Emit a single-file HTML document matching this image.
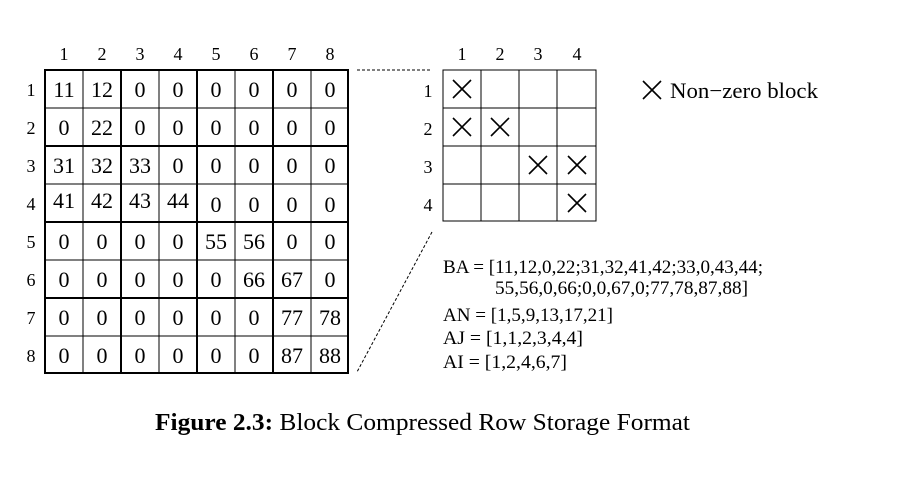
<!DOCTYPE html>
<html><head><meta charset="utf-8"><style>body{margin:0;background:#fff}svg{display:block}</style></head><body>
<svg width="904" height="504" viewBox="0 0 904 504" xmlns="http://www.w3.org/2000/svg" font-family="Liberation Serif, serif" fill="#000">
<g font-size="18" text-anchor="middle">
<text x="64" y="60">1</text><text x="102" y="60">2</text><text x="140" y="60">3</text><text x="178" y="60">4</text><text x="216" y="60">5</text><text x="254" y="60">6</text><text x="292" y="60">7</text><text x="330" y="60">8</text>
<text x="31" y="96">1</text><text x="31" y="134">2</text><text x="31" y="172">3</text><text x="31" y="210">4</text><text x="31" y="248">5</text><text x="31" y="286">6</text><text x="31" y="324">7</text><text x="31" y="362">8</text>
</g>
<g stroke="#000" fill="none">
<g stroke-width="1">
<line x1="83" y1="70" x2="83" y2="373"/><line x1="159" y1="70" x2="159" y2="373"/><line x1="235" y1="70" x2="235" y2="373"/><line x1="311" y1="70" x2="311" y2="373"/>
<line x1="45" y1="108" x2="348" y2="108"/><line x1="45" y1="184" x2="348" y2="184"/><line x1="45" y1="260" x2="348" y2="260"/><line x1="45" y1="336" x2="348" y2="336"/>
</g>
<g stroke-width="2">
<rect x="45" y="70" width="303" height="303"/>
<line x1="121" y1="70" x2="121" y2="373"/><line x1="197" y1="70" x2="197" y2="373"/><line x1="273" y1="70" x2="273" y2="373"/>
<line x1="45" y1="146" x2="348" y2="146"/><line x1="45" y1="222" x2="348" y2="222"/><line x1="45" y1="298" x2="348" y2="298"/>
</g>
</g>
<g font-size="22" text-anchor="middle">
<text x="64" y="97">11</text><text x="102" y="97">12</text><text x="140" y="97">0</text><text x="178" y="97">0</text><text x="216" y="97">0</text><text x="254" y="97">0</text><text x="292" y="97">0</text><text x="330" y="97">0</text>
<text x="64" y="135">0</text><text x="102" y="135">22</text><text x="140" y="135">0</text><text x="178" y="135">0</text><text x="216" y="135">0</text><text x="254" y="135">0</text><text x="292" y="135">0</text><text x="330" y="135">0</text>
<text x="64" y="173">31</text><text x="102" y="173">32</text><text x="140" y="173">33</text><text x="178" y="173">0</text><text x="216" y="173">0</text><text x="254" y="173">0</text><text x="292" y="173">0</text><text x="330" y="173">0</text>
<text x="64" y="208">41</text><text x="102" y="208">42</text><text x="140" y="208">43</text><text x="178" y="208">44</text><text x="216" y="212">0</text><text x="254" y="212">0</text><text x="292" y="212">0</text><text x="330" y="212">0</text>
<text x="64" y="249">0</text><text x="102" y="249">0</text><text x="140" y="249">0</text><text x="178" y="249">0</text><text x="216" y="249">55</text><text x="254" y="249">56</text><text x="292" y="249">0</text><text x="330" y="249">0</text>
<text x="64" y="287">0</text><text x="102" y="287">0</text><text x="140" y="287">0</text><text x="178" y="287">0</text><text x="216" y="287">0</text><text x="254" y="287">66</text><text x="292" y="287">67</text><text x="330" y="287">0</text>
<text x="64" y="325">0</text><text x="102" y="325">0</text><text x="140" y="325">0</text><text x="178" y="325">0</text><text x="216" y="325">0</text><text x="254" y="325">0</text><text x="292" y="325">77</text><text x="330" y="325">78</text>
<text x="64" y="363">0</text><text x="102" y="363">0</text><text x="140" y="363">0</text><text x="178" y="363">0</text><text x="216" y="363">0</text><text x="254" y="363">0</text><text x="292" y="363">87</text><text x="330" y="363">88</text>
</g>
<g stroke="#000" stroke-width="1" stroke-dasharray="3,2" fill="none">
<line x1="357" y1="70" x2="432" y2="70"/>
<line x1="432" y1="232" x2="357" y2="372"/>
</g>
<g font-size="18" text-anchor="middle">
<text x="462" y="60">1</text><text x="500" y="60">2</text><text x="538" y="60">3</text><text x="577" y="60">4</text>
<text x="428" y="97">1</text><text x="428" y="135">2</text><text x="428" y="173">3</text><text x="428" y="211">4</text>
</g>
<g stroke="#000" stroke-width="1" fill="none">
<rect x="443" y="70" width="153" height="151"/>
<line x1="481" y1="70" x2="481" y2="221"/><line x1="519" y1="70" x2="519" y2="221"/><line x1="557" y1="70" x2="557" y2="221"/>
<line x1="443" y1="108" x2="596" y2="108"/><line x1="443" y1="146" x2="596" y2="146"/><line x1="443" y1="184" x2="596" y2="184"/>
</g>
<g stroke="#000" stroke-width="1.6">
<path d="M453 80 L471 98 M471 80 L453 98"/>
<path d="M453 118 L471 136 M471 118 L453 136"/>
<path d="M491 118 L509 136 M509 118 L491 136"/>
<path d="M529 156 L547 174 M547 156 L529 174"/>
<path d="M568 156 L586 174 M586 156 L568 174"/>
<path d="M568 194 L586 212 M586 194 L568 212"/>
<path d="M643 81 L661 99 M661 81 L643 99"/>
</g>
<text x="670" y="98" font-size="22" textLength="148" lengthAdjust="spacingAndGlyphs">Non−zero block</text>
<g font-size="19">
<text x="443" y="273" textLength="320" lengthAdjust="spacingAndGlyphs">BA = [11,12,0,22;31,32,41,42;33,0,43,44;</text>
<text x="495" y="294" textLength="253" lengthAdjust="spacingAndGlyphs">55,56,0,66;0,0,67,0;77,78,87,88]</text>
<text x="443" y="321" textLength="170" lengthAdjust="spacingAndGlyphs">AN = [1,5,9,13,17,21]</text>
<text x="443" y="344" textLength="140" lengthAdjust="spacingAndGlyphs">AJ  = [1,1,2,3,4,4]</text>
<text x="443" y="368" textLength="124" lengthAdjust="spacingAndGlyphs">AI  = [1,2,4,6,7]</text>
</g>
<text x="155" y="430" font-size="24" textLength="535" lengthAdjust="spacingAndGlyphs"><tspan font-weight="bold">Figure 2.3:</tspan> Block Compressed Row Storage Format</text>
</svg>
</body></html>
